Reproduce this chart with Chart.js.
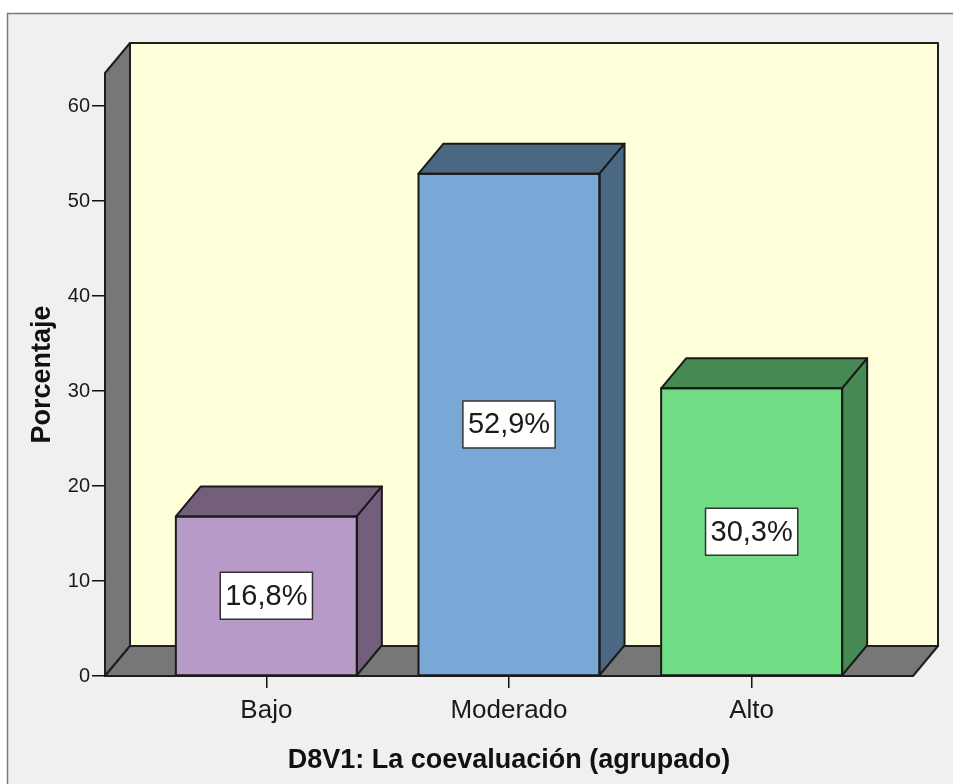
<!DOCTYPE html>
<html>
<head>
<meta charset="utf-8">
<script src="https://cdn.jsdelivr.net/npm/chart.js@4.4.1/dist/chart.umd.min.js"></script>
<style>
    html, body { margin: 0; padding: 0; background: #fff; }
</style>
</head>
<body>
<canvas id="chart" width="953" height="784"></canvas>
<script>
// datos
const categories = ['Bajo', 'Moderado', 'Alto'];
const percentages = [16.8, 52.9, 30.3];
const yTicks = [0, 10, 20, 30, 40, 50, 60];
const frontColors = ['#b89ac8', '#7aa8d6', '#70dd86'];
const sideColors = ['#735e7c', '#4b6882', '#458a52'];

const FONT = "'Liberation Sans', Arial, sans-serif";
const DX = 25, DY = -30; // profundidad 3D

function poly(ctx, pts, fill) {
    ctx.beginPath();
    ctx.moveTo(pts[0][0], pts[0][1]);
    for (let i = 1; i < pts.length; i++) ctx.lineTo(pts[i][0], pts[i][1]);
    ctx.closePath();
    ctx.fillStyle = fill;
    ctx.fill();
    ctx.stroke();
}

const box3d = {
    id: 'box3d',
    beforeDraw(chart) {
        const { ctx, chartArea: a } = chart;
        ctx.save();
        ctx.fillStyle = '#ffffff';
        ctx.fillRect(0, 0, chart.width, chart.height);
        ctx.fillStyle = '#f0f0f0';
        ctx.fillRect(7, 13, chart.width, chart.height);
        ctx.strokeStyle = '#7a7a7a';
        ctx.lineWidth = 1.5;
        ctx.strokeRect(7.5, 13.5, chart.width + 10, chart.height + 10);

        ctx.strokeStyle = '#1e1e1e';
        ctx.lineWidth = 2;
        ctx.lineJoin = 'round';
        // pared del fondo
        poly(ctx, [[a.left + DX, a.top + DY], [a.right + DX, a.top + DY],
                   [a.right + DX, a.bottom + DY], [a.left + DX, a.bottom + DY]], '#ffffd9');
        // pared izquierda
        poly(ctx, [[a.left, a.top], [a.left + DX, a.top + DY],
                   [a.left + DX, a.bottom + DY], [a.left, a.bottom]], '#777777');
        // suelo
        poly(ctx, [[a.left, a.bottom], [a.left + DX, a.bottom + DY],
                   [a.right + DX, a.bottom + DY], [a.right, a.bottom]], '#777777');
        ctx.restore();
    },
    afterDatasetsDraw(chart) {
        const ctx = chart.ctx;
        const meta = chart.getDatasetMeta(0);
        ctx.save();
        ctx.strokeStyle = '#1a1a1a';
        ctx.lineWidth = 2;
        ctx.lineJoin = 'round';
        meta.data.forEach((bar, i) => {
            const { x, y, base, width } = bar.getProps(['x', 'y', 'base', 'width'], true);
            const L = x - width / 2, R = x + width / 2;
            poly(ctx, [[L, y], [L + DX, y + DY], [R + DX, y + DY], [R, y]], sideColors[i]);
            poly(ctx, [[R, y], [R + DX, y + DY], [R + DX, base + DY], [R, base]], sideColors[i]);
            ctx.strokeRect(L, y, width, base - y);

            // etiqueta
            const txt = percentages[i].toFixed(1).replace('.', ',') + '%';
            ctx.font = '29px ' + FONT;
            const tw = ctx.measureText(txt).width;
            const bw = tw + 10, bh = 47;
            const cy = (y + base) / 2;
            ctx.fillStyle = '#ffffff';
            ctx.fillRect(x - bw / 2, cy - bh / 2, bw, bh);
            ctx.lineWidth = 1.5;
            ctx.strokeStyle = '#333333';
            ctx.strokeRect(x - bw / 2, cy - bh / 2, bw, bh);
            ctx.fillStyle = '#1a1a1a';
            ctx.textAlign = 'center';
            ctx.textBaseline = 'middle';
            ctx.fillText(txt, x, cy + 1);
            ctx.lineWidth = 2;
            ctx.strokeStyle = '#1a1a1a';
        });
        ctx.restore();
    }
};

new Chart(document.getElementById('chart'), {
    type: 'bar',
    data: {
        datasets: [{
            label: 'Porcentaje',
            data: percentages.map((v, i) => ({ x: i + 1, y: v })),
            backgroundColor: frontColors,
            borderWidth: 0,
            categoryPercentage: 1,
            barPercentage: 0.746
        }]
    },
    options: {
        responsive: false,
        animation: false,
        layout: { padding: { top: 73, right: 40, left: 0, bottom: 0 } },
        plugins: {
            legend: { display: false },
            tooltip: { enabled: false }
        },
        scales: {
            x: {
                type: 'linear',
                offset: false,
                min: 0.335,
                max: 3.665,
                afterBuildTicks: s => { s.ticks = categories.map((c, i) => ({ value: i + 1 })); },
                afterFit: s => { s.height = 108; },
                grid: { offset: false, drawOnChartArea: false, tickLength: 12, color: '#111', lineWidth: 1.5 },
                border: { display: false },
                ticks: {
                    padding: 7,
                    autoSkip: false,
                    maxRotation: 0,
                    color: '#1a1a1a',
                    font: { family: FONT, size: 26 },
                    callback: v => categories[v - 1] ?? ''
                },
                title: {
                    display: true,
                    text: 'D8V1: La coevaluación (agrupado)',
                    color: '#111',
                    font: { family: FONT, size: 27, weight: 'bold' },
                    padding: { bottom: 7 }
                }
            },
            y: {
                min: 0,
                max: 63.5,
                afterBuildTicks: s => { s.ticks = yTicks.map(v => ({ value: v })); },
                afterFit: s => { s.width = 105; },
                grid: { drawOnChartArea: false, tickLength: 13, color: '#111', lineWidth: 1.5 },
                border: { display: false },
                ticks: {
                    padding: 2,
                    color: '#1a1a1a',
                    font: { family: FONT, size: 20 }
                },
                title: {
                    display: true,
                    text: 'Porcentaje',
                    color: '#111',
                    font: { family: FONT, size: 27, weight: 'bold' },
                    padding: { top: 26 }
                }
            }
        }
    },
    plugins: [box3d]
});
</script>
</body>
</html>
